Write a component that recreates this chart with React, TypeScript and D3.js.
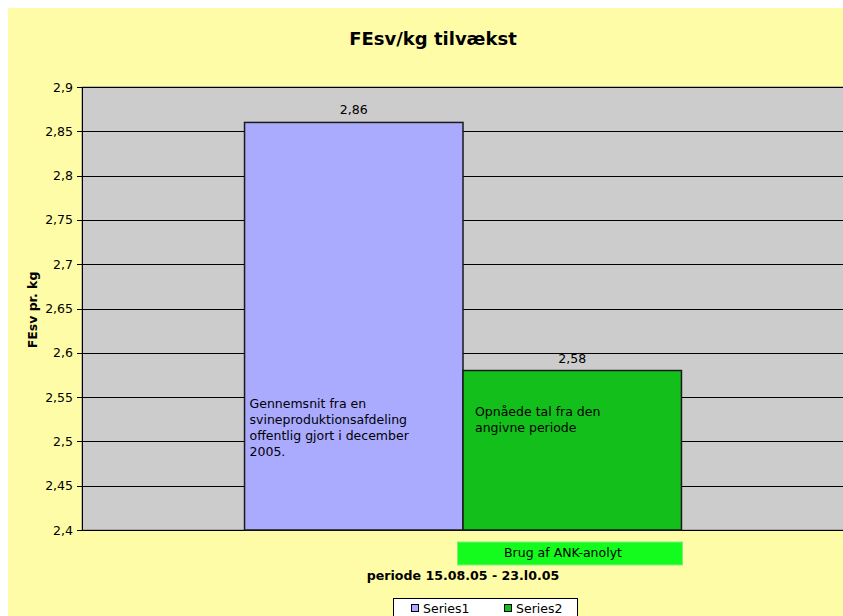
import React from "react";
import * as d3 from "d3";

const categories = ["periode 15.08.05 - 23.l0.05"];
const seriesNames = ["Series1", "Series2"];
const seriesValues = [2.86, 2.58];
const valueLabels = ["2,86", "2,58"];
const yTicks = [2.4, 2.45, 2.5, 2.55, 2.6, 2.65, 2.7, 2.75, 2.8, 2.85, 2.9];
const barNotes = [
  ["Gennemsnit fra en", "svineproduktionsafdeling", "offentlig gjort i december", "2005."],
  ["Opnåede tal fra den", "angivne periode"],
];
const colors = ["#AAAAFF", "#13BF1A"];

const W = 843;
const H = 616;
const font = "'DejaVu Sans', Verdana, sans-serif";

export default function App() {
  const plot = { left: 82, right: 844, top: 87, bottom: 530 };
  const y = d3.scaleLinear().domain([2.4, 2.9]).range([plot.bottom, plot.top]);
  const x0 = d3
    .scaleBand<string>()
    .domain(categories)
    .range([plot.left, plot.right])
    .paddingInner(0)
    .paddingOuter(0.372);
  const x1 = d3
    .scaleBand<string>()
    .domain(seriesNames)
    .range([0, x0.bandwidth()])
    .padding(0);
  const fmt = (v: number) => String(+v.toFixed(2)).replace(".", ",");
  const cx = (x0(categories[0]) as number) + x0.bandwidth() / 2;

  return (
    <svg
      width={W}
      height={H}
      style={{ position: "absolute", left: 0, top: 0, fontFamily: font }}
    >
      <rect x={8} y={8} width={W - 8} height={H - 8} fill="#FFFCA8" />
      <text x={433} y={45} textAnchor="middle" fontSize={18} fontWeight="bold">
        FEsv/kg tilvækst
      </text>
      <rect
        x={plot.left}
        y={plot.top}
        width={plot.right - plot.left}
        height={plot.bottom - plot.top}
        fill="#CCCCCC"
        stroke="#808080"
      />
      {yTicks.map((t) => (
        <g key={t}>
          <line
            x1={plot.left - 5}
            x2={plot.right}
            y1={Math.round(y(t)) + 0.5}
            y2={Math.round(y(t)) + 0.5}
            stroke="#000"
            strokeWidth={1}
          />
          <text
            x={73}
            y={y(t) + 4.5}
            textAnchor="end"
            fontSize={12.5}
            fill="#000"
          >
            {fmt(t)}
          </text>
        </g>
      ))}
      <line x1={plot.left + 0.5} x2={plot.left + 0.5} y1={plot.top} y2={plot.bottom} stroke="#000" />
      {seriesNames.map((s, i) => {
        const bx = (x0(categories[0]) as number) + (x1(s) as number);
        const bw = x1.bandwidth();
        const by = y(seriesValues[i]);
        return (
          <g key={s}>
            <rect
              x={bx}
              y={by}
              width={bw}
              height={plot.bottom - by}
              fill={colors[i]}
              stroke="#1a1a1a"
              strokeWidth={1.5}
            />
            <text x={bx + bw / 2} y={by - 8} textAnchor="middle" fontSize={12.5}>
              {valueLabels[i]}
            </text>
            {barNotes[i].map((line, j) => (
              <text
                key={j}
                x={bx + (i === 0 ? 5 : 12)}
                y={(i === 0 ? 408 : 416) + j * 16}
                fontSize={12.5}
              >
                {line}
              </text>
            ))}
          </g>
        );
      })}
      <rect x={457.5} y={542} width={225} height={23} fill="#14FC1E" stroke="#7CF07C" strokeWidth={1} />
      <text x={563} y={557} textAnchor="middle" fontSize={12.5}>
        Brug af ANK-anolyt
      </text>
      <text x={cx} y={580} textAnchor="middle" fontSize={12.6} fontWeight="bold">
        {categories[0]}
      </text>
      <text
        transform={`translate(37,${310}) rotate(-90)`}
        textAnchor="middle"
        fontSize={12.5}
        fontWeight="bold"
      >
        FEsv pr. kg
      </text>
      <rect x={393.5} y={598.5} width={184} height={30} fill="#FFFFFF" stroke="#000" />
      {seriesNames.map((s, i) => (
        <g key={s}>
          <rect
            x={411.5 + i * 93}
            y={604.5}
            width={7}
            height={7}
            fill={colors[i]}
            stroke="#000"
          />
          <text x={423 + i * 93} y={613} fontSize={12.5}>
            {s}
          </text>
        </g>
      ))}
    </svg>
  );
}
